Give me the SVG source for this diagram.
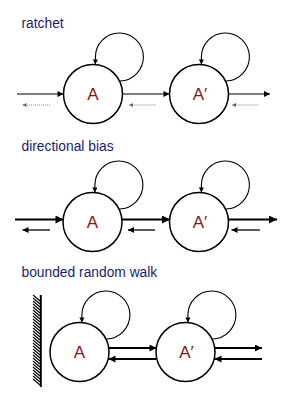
<svg xmlns="http://www.w3.org/2000/svg" width="289" height="400" viewBox="0 0 289 400">
<style>
.title{font-family:"Liberation Sans","DejaVu Sans",sans-serif;font-size:13.8px;fill:#1c1c6e}
.lab{font-family:"Liberation Sans","DejaVu Sans",sans-serif;font-size:17px;fill:#8e1414;text-anchor:middle}
.node{fill:#fff;stroke:#000;stroke-width:1.5}
.loop{fill:none;stroke:#000;stroke-width:1.1}
.a1{fill:none;stroke:#000;stroke-width:1.2}
.dot{fill:none;stroke:#888;stroke-width:1.2;stroke-dasharray:1 1}
.a2{fill:none;stroke:#000;stroke-width:2}
.a2t{fill:none;stroke:#000;stroke-width:1.3}
.a3{fill:none;stroke:#000;stroke-width:1.8}
.hatch{fill:none;stroke:#000;stroke-width:1.1}
</style>
<defs>
<marker id="hl" viewBox="0 0 10 10" refX="10" refY="5" markerWidth="6" markerHeight="5" markerUnits="userSpaceOnUse" orient="auto"><path d="M0,0L10,5L0,10z" fill="#000"/></marker>
<marker id="h1" viewBox="0 0 10 10" refX="10" refY="5" markerWidth="8" markerHeight="6" markerUnits="userSpaceOnUse" orient="auto"><path d="M0,0L10,5L0,10z" fill="#000"/></marker>
<marker id="hg" viewBox="0 0 10 10" refX="10" refY="5" markerWidth="5" markerHeight="4" markerUnits="userSpaceOnUse" orient="auto"><path d="M0,0L10,5L0,10z" fill="#666"/></marker>
<marker id="h2" viewBox="0 0 10 10" refX="10" refY="5" markerWidth="12" markerHeight="8" markerUnits="userSpaceOnUse" orient="auto"><path d="M0,0L10,5L0,10z" fill="#000"/></marker>
<marker id="h2t" viewBox="0 0 10 10" refX="10" refY="5" markerWidth="8" markerHeight="6" markerUnits="userSpaceOnUse" orient="auto"><path d="M0,0L10,5L0,10z" fill="#000"/></marker>
<marker id="h3" viewBox="0 0 10 10" refX="10" refY="5" markerWidth="10" markerHeight="7" markerUnits="userSpaceOnUse" orient="auto"><path d="M0,0L10,5L0,10z" fill="#000"/></marker>
</defs>
<rect width="289" height="400" fill="#fff"/>
<text class="title" x="21.5" y="27.5">ratchet</text>
<text class="title" x="21.5" y="150.5">directional bias</text>
<text class="title" x="21.5" y="276.5">bounded random walk</text>

<g id="wall">
<line x1="40.8" y1="295" x2="40.8" y2="387" stroke="#000" stroke-width="2"/>
<path class="hatch" d="M33,295l7,6M33,298l7,6M33,301l7,6M33,304l7,6M33,307l7,6M33,310l7,6M33,313l7,6M33,316l7,6M33,319l7,6M33,322l7,6M33,325l7,6M33,328l7,6M33,331l7,6M33,334l7,6M33,337l7,6M33,340l7,6M33,343l7,6M33,346l7,6M33,349l7,6M33,352l7,6M33,355l7,6M33,358l7,6M33,361l7,6M33,364l7,6M33,367l7,6M33,370l7,6M33,373l7,6M33,376l7,6M33,379l7,6"/>
</g>

<g id="connectors">
<!-- panel 1 -->
<path class="loop" d="M120,81 A24,24 0 1 0 95.4,57 L95.4,64.6" marker-end="url(#hl)"/>
<path class="loop" d="M226,81 A24,24 0 1 0 201.4,57 L201.4,64.6" marker-end="url(#hl)"/>
<line class="a1" x1="17" y1="94" x2="63.5" y2="94" marker-end="url(#h1)"/>
<line class="a1" x1="122.5" y1="94" x2="169.5" y2="94" marker-end="url(#h1)"/>
<line class="a1" x1="228.5" y1="94" x2="270" y2="94" marker-end="url(#h1)"/>
<line class="dot" x1="50" y1="105" x2="22.5" y2="105" marker-end="url(#hg)"/>
<line class="dot" x1="155.5" y1="105" x2="129" y2="105" marker-end="url(#hg)"/>
<line class="dot" x1="258.5" y1="105" x2="232" y2="105" marker-end="url(#hg)"/>
<!-- panel 2 -->
<path class="loop" d="M119.5,209 A24,24 0 1 0 94.9,185 L94.9,192.6" marker-end="url(#hl)"/>
<path class="loop" d="M226,209 A24,24 0 1 0 201.4,185 L201.4,192.6" marker-end="url(#hl)"/>
<line class="a2" x1="15" y1="219.5" x2="63.5" y2="219.5" marker-end="url(#h2)"/>
<line class="a2" x1="122" y1="219.5" x2="170" y2="219.5" marker-end="url(#h2)"/>
<line class="a2" x1="228" y1="219.5" x2="277" y2="219.5" marker-end="url(#h2)"/>
<line class="a2t" x1="50" y1="230" x2="22.5" y2="230" marker-end="url(#h2t)"/>
<line class="a2t" x1="155" y1="230" x2="128" y2="230" marker-end="url(#h2t)"/>
<line class="a2t" x1="260" y1="230" x2="231.5" y2="230" marker-end="url(#h2t)"/>
<!-- panel 3 -->
<path class="loop" d="M106.5,339 A24,24 0 1 0 81.9,315 L81.9,322.6" marker-end="url(#hl)"/>
<path class="loop" d="M212.5,339 A24,24 0 1 0 187.9,315 L187.9,322.6" marker-end="url(#hl)"/>
<line class="a3" x1="109" y1="348" x2="156.5" y2="348" marker-end="url(#h3)"/>
<line class="a3" x1="156.5" y1="359" x2="108.5" y2="359" marker-end="url(#h3)"/>
<line class="a3" x1="215" y1="348" x2="262" y2="348" marker-end="url(#h3)"/>
<line class="a3" x1="262" y1="359" x2="214.5" y2="359" marker-end="url(#h3)"/>
</g>

<g id="p1-A"><circle class="node" cx="93" cy="94" r="29.5"/><text class="lab" x="93" y="100">A</text></g>
<g id="p1-A2"><circle class="node" cx="199" cy="94" r="29.5"/><text class="lab" x="200" y="100">A′</text></g>
<g id="p2-A"><circle class="node" cx="92.5" cy="222" r="29.5"/><text class="lab" x="92.5" y="228">A</text></g>
<g id="p2-A2"><circle class="node" cx="199" cy="222" r="29.5"/><text class="lab" x="200" y="228">A′</text></g>
<g id="p3-A"><circle class="node" cx="79.5" cy="352" r="29.5"/><text class="lab" x="79.5" y="358">A</text></g>
<g id="p3-A2"><circle class="node" cx="185.5" cy="352" r="29.5"/><text class="lab" x="186.5" y="358">A′</text></g>
</svg>
